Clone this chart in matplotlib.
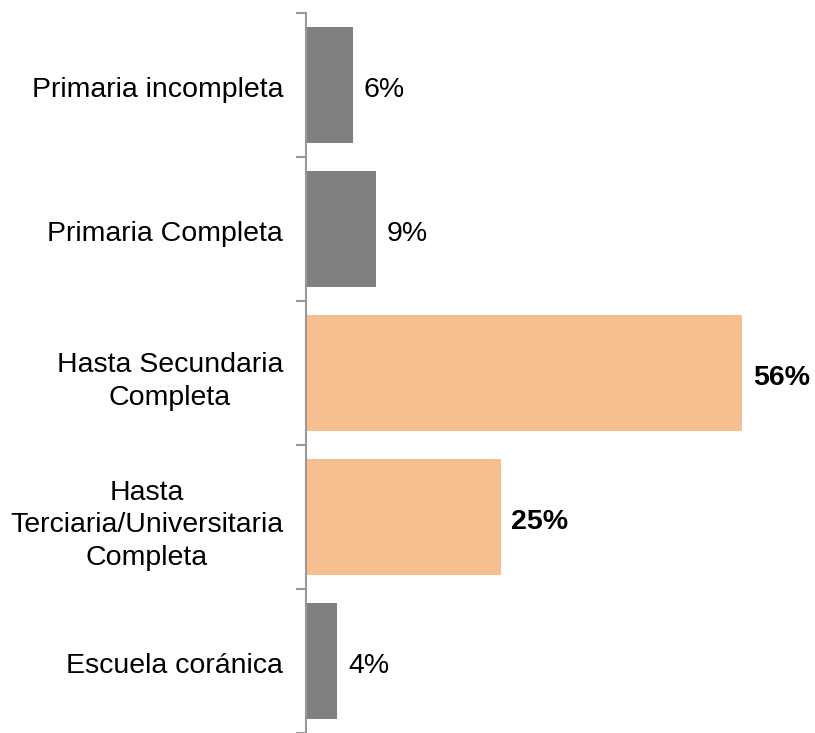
import numpy as np
import matplotlib.pyplot as plt

plt.rcParams['font.family'] = ['Liberation Sans', 'DejaVu Sans']

categories = ["Primaria incompleta", "Primaria Completa", "Hasta Secundaria\nCompleta",
              "Hasta\nTerciaria/Universitaria\nCompleta", "Escuela coránica"]
values = [6, 9, 56, 25, 4]
highlight = [False, False, True, True, False]

gray = "#808080"
orange = "#F8C090"

fig = plt.figure(figsize=(8.15, 7.33), dpi=100)
ax = fig.add_axes([306 / 815, 0.0, 467 / 815, 1 - 13 / 733])

y = np.arange(len(categories))
colors = [orange if h else gray for h in highlight]
ax.barh(y, values, height=0.8, color=colors)

for yi, v, h in zip(y, values, highlight):
    ax.text(v + 1.4, yi + 0.015, f"{v}%", va="center_baseline", ha="left", fontsize=20.5,
            fontweight="bold" if h else "normal")

ax.set_ylim(len(categories) - 0.5, -0.5)
ax.set_xlim(0, 60)
ax.set_yticks(y + 0.015)
ax.set_yticklabels(categories, fontsize=20.5, linespacing=1.32, multialignment="center")
ax.set_yticks(np.arange(-0.5, len(categories), 1), minor=True)
ax.tick_params(axis="y", which="major", length=0, pad=16.5)
ax.tick_params(axis="y", which="minor", length=7, width=1.5, color="#999999")
ax.set_xticks([])

for s in ["top", "right", "bottom"]:
    ax.spines[s].set_visible(False)
ax.spines["left"].set_color("#999999")
ax.spines["left"].set_linewidth(1.5)

plt.savefig("out.png", dpi=100)
plt.close()
